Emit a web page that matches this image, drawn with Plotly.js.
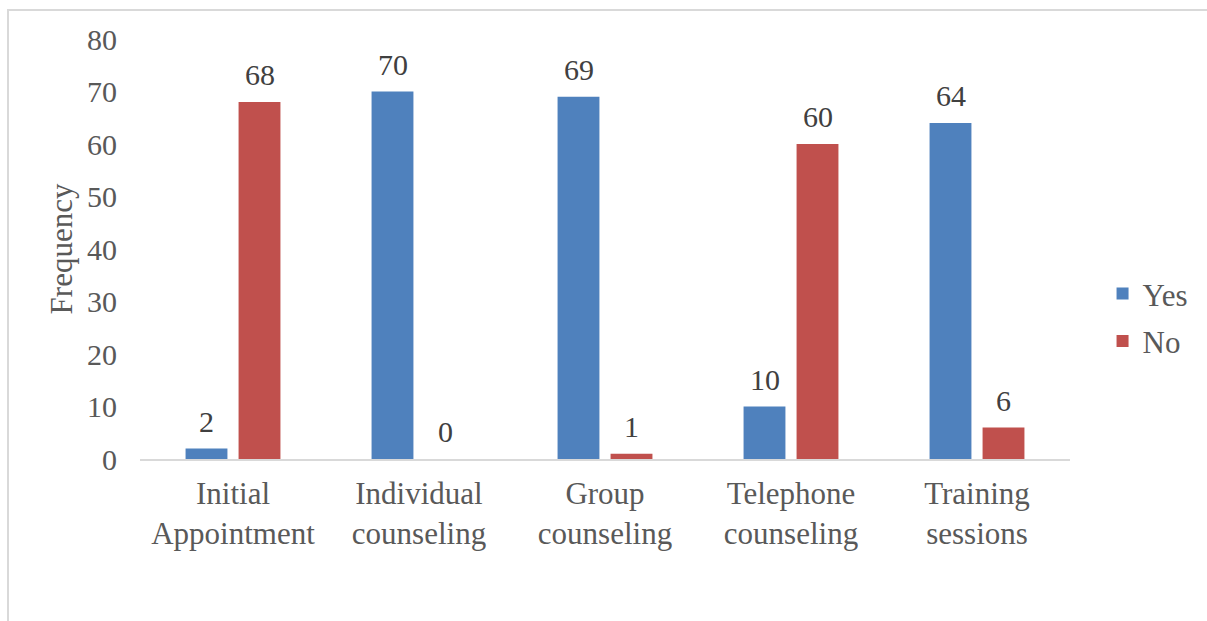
<!DOCTYPE html>
<html><head><meta charset="utf-8">
<script src="https://cdn.plot.ly/plotly-3.0.1.min.js"></script>
<style>
html,body{margin:0;padding:0;background:#fff;width:1207px;height:621px;overflow:hidden}
#frame{position:absolute;left:7px;top:9px;width:1200px;height:612px;border-top:2px solid #d9d9d9;border-left:2px solid #d9d9d9}
#chart{position:absolute;left:0;top:0;width:1198px;height:610px}
</style></head>
<body><div id="frame"><div id="chart"></div></div>
<script>
const categories = ["Initial<br>Appointment","Individual<br>counseling","Group<br>counseling","Telephone<br>counseling","Training<br>sessions"];
const yesValues = [2,70,69,10,64];
const noValues = [68,0,1,60,6];
const yTicks = [0,10,20,30,40,50,60,70,80];

const font = "'Liberation Serif', 'Times New Roman', serif";
const FS = 31;
const traces = [
  {type:'bar', name:'Yes', x:categories, y:yesValues, marker:{color:'#4F81BD'},
   offsetgroup:'yes', legendgroup:'a', hoverinfo:'none'},
  {type:'bar', name:'No', x:categories, y:noValues, marker:{color:'#C0504D'},
   offsetgroup:'no', legendgroup:'b', hoverinfo:'none'}
];
const layout = {
  width:1198, height:610,
  margin:{l:131,r:137,t:28,b:162},
  paper_bgcolor:'#fff', plot_bgcolor:'#fff',
  font:{family:font,size:FS,color:'#595959'},
  barmode:'group', bargap:0.43, bargroupgap:0.21,
  showlegend:true,
  legend:{x:1.035,y:0.337,xanchor:'left',yanchor:'middle',font:{family:font,size:FS,color:'#595959'},tracegroupgap:4,itemwidth:30},
  xaxis:{showline:true,linecolor:'#d9d9d9',linewidth:1.5,ticks:'',showgrid:false,zeroline:false,
         tickfont:{family:font,size:FS,color:'#595959'},ticklabelstandoff:6},
  yaxis:{range:[0,80],tickvals:yTicks,showgrid:false,zeroline:false,showline:false,ticks:'',
         tickfont:{family:font,size:30,color:'#595959'},ticklabelstandoff:22,
         title:{text:'Frequency',font:{family:font,size:FS,color:'#595959'},standoff:5}},
  annotations:[]
};
// value labels, placed through the data scales
function addLabels(vals, xshift){
  vals.forEach((v,i)=>{
    layout.annotations.push({x:categories[i], y:v, xref:'x', yref:'y', text:String(v),
      showarrow:false, yanchor:'bottom', xshift:xshift, yshift:9,
      font:{family:font,size:30,color:'#404040'}});
  });
}
addLabels(yesValues, -26.5);
addLabels(noValues, 26.5);
Plotly.newPlot('chart',traces,layout,{displayModeBar:false,staticPlot:true});
</script></body></html>
